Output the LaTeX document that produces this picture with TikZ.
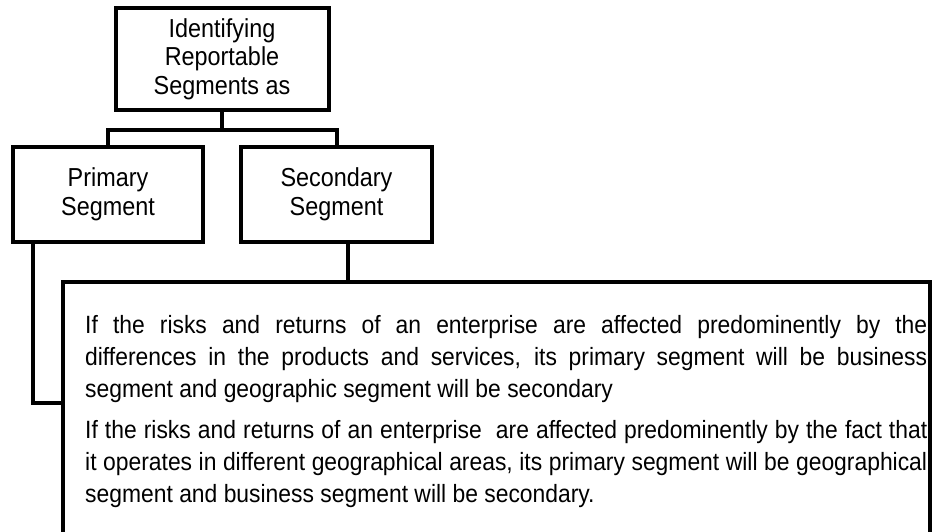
\documentclass[tikz,border=0pt]{standalone}
\usepackage{fontspec}
\usepackage{tikz}
\usepackage{xcolor}
\newfontfamily\chartfont[FakeStretch=0.9]{Liberation Sans}
\newfontfamily\rulefont[FakeStretch=0.915]{Liberation Sans}

\tikzset{
    segbox/.style={draw, line width=4pt, inner sep=0pt, align=center,
        font=\chartfont\fontsize{26}{28.5}\selectfont},
    link/.style={line width=4pt},
    ruleline/.style={anchor=base west, inner sep=0pt,
        font=\rulefont\fontsize{25}{32}\selectfont},
}

\begin{document}
\begin{tikzpicture}[x=1pt, y=-1pt]
        \pgfmathsetmacro{\textwidth}{842}

        \useasboundingbox (0, 0) rectangle (933, 531);
        \clip (0, 0) rectangle (933, 531);

        \node [segbox, minimum width=213pt, minimum height=102pt] (head) at (222, 59)
            {Identifying\\Reportable\\Segments as};
        \node [segbox, minimum width=190pt, minimum height=95pt] (primary) at (108, 194.5)
            {Primary\\Segment};
        \node [segbox, minimum width=191pt, minimum height=95pt] (secondary) at (336.5, 194.5)
            {Secondary\\Segment};

        \draw [link] (head.south) -- ++(0, 18) coordinate (fork);
        \draw [link] (primary.north) |- (fork) -| (secondary.north);

        % open box with the two rules
        \coordinate (bl) at (63, 545);
        \coordinate (tl) at (63, 282);
        \coordinate (tr) at (930, 282);
        \coordinate (br) at (930, 545);
        \draw [link] (bl) -- (tl) -- (tr) -- (br);

        \coordinate (join) at (63, 403);
        \draw [link] ([xshift=-75pt]primary.south) |- (join);
        \draw [link] ([xshift=11.5pt]secondary.south) -- ([xshift=11.5pt]secondary.south |- tl);

        \node [ruleline] (ruleA1) at (85, 333) {\makebox[\textwidth pt][s]{If the risks and returns of an enterprise are affected predominently by the}};
        \node [ruleline] (ruleA2) at (85, 365) {\makebox[\textwidth pt][s]{differences in the products and services, its primary segment will be business}};
        \node [ruleline] (ruleA3) at (85, 397) {segment and geographic segment will be secondary};

        \node [ruleline] (ruleB1) at (85, 438) {\makebox[\textwidth pt][s]{If the risks and returns of an enterprise\ \ are affected predominently by the fact that}};
        \node [ruleline] (ruleB2) at (85, 470) {\makebox[\textwidth pt][s]{it operates in different geographical areas, its primary segment will be geographical}};
        \node [ruleline] (ruleB3) at (85, 502) {segment and business segment will be secondary.};
    \end{tikzpicture}
\end{document}
